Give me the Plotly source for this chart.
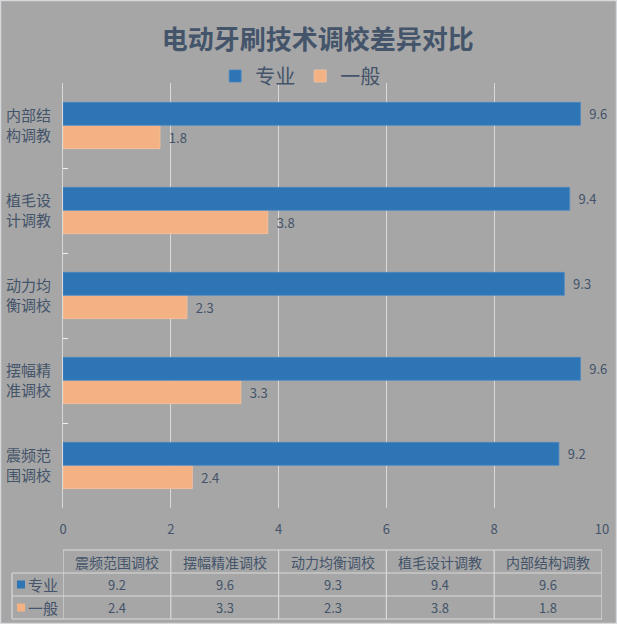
import plotly.graph_objects as go

categories = ["震频范围调校", "摆幅精准调校", "动力均衡调校", "植毛设计调教", "内部结构调教"]
tick_labels = ["震频范<br>围调校", "摆幅精<br>准调校", "动力均<br>衡调校", "植毛设<br>计调教", "内部结<br>构调教"]
pro_values = [9.2, 9.6, 9.3, 9.4, 9.6]
gen_values = [2.4, 3.3, 2.3, 3.8, 1.8]
series_names = ["专业", "一般"]
x_ticks = [0, 2, 4, 6, 8, 10]

BLUE = "#2e75b6"
ORANGE = "#f4b183"
TXT = "#44546a"
LINE = "#d9d9d9"
BG = "#a6a6a6"
FONT = "Noto Sans CJK SC"

W, H = 617, 624
L, R, T, B = 63, 602, 83, 508


def px_x(p):
    return (p - L) / (R - L)


def px_y(p):
    return (B - p) / (B - T)


fig = go.Figure()
fig.add_trace(go.Bar(
    y=categories, x=gen_values, name=series_names[1], orientation="h",
    marker=dict(color=ORANGE, line=dict(color="#f6c39e", width=0.8)),
    text=gen_values, textposition="outside", texttemplate="\u00a0\u00a0%{x}",
    textfont=dict(color=TXT, size=13, family=FONT),
    cliponaxis=False, constraintext="none", legendrank=2,
))
fig.add_trace(go.Bar(
    y=categories, x=pro_values, name=series_names[0], orientation="h",
    marker=dict(color=BLUE, line=dict(color="#4a88c4", width=0.8)),
    text=pro_values, textposition="outside", texttemplate="\u00a0\u00a0%{x}",
    textfont=dict(color=TXT, size=13, family=FONT),
    cliponaxis=False, constraintext="none", legendrank=1,
))

shapes = []
annotations = []

# data table
row_lines = [550, 573, 596, 619]
cols = len(categories)
shapes.append(dict(type="line", xref="x", yref="paper", x0=0, x1=x_ticks[-1],
                   y0=px_y(550), y1=px_y(550), line=dict(color=LINE, width=1.2)))
for yy in row_lines[1:]:
    shapes.append(dict(type="line", xref="paper", yref="paper", x0=px_x(12), x1=1,
                       y0=px_y(yy), y1=px_y(yy), line=dict(color=LINE, width=1.2)))
for i in range(cols + 1):
    xv = i * 2
    shapes.append(dict(type="line", xref="x", yref="paper", x0=xv, x1=xv,
                       y0=px_y(550), y1=px_y(619), line=dict(color=LINE, width=1.2)))
shapes.append(dict(type="line", xref="paper", yref="paper", x0=px_x(12), x1=px_x(12),
                   y0=px_y(573), y1=px_y(619), line=dict(color=LINE, width=1.2)))

for i, c in enumerate(categories):
    xc = i * 2 + 1
    annotations.append(dict(x=xc, y=px_y(561.5), xref="x", yref="paper", text=c,
                            xanchor="center", yanchor="middle", showarrow=False,
                            font=dict(size=14, color=TXT, family=FONT)))
    annotations.append(dict(x=xc, y=px_y(584.5), xref="x", yref="paper", text=str(pro_values[i]),
                            xanchor="center", yanchor="middle", showarrow=False,
                            font=dict(size=13, color=TXT, family=FONT)))
    annotations.append(dict(x=xc, y=px_y(607.5), xref="x", yref="paper", text=str(gen_values[i]),
                            xanchor="center", yanchor="middle", showarrow=False,
                            font=dict(size=13, color=TXT, family=FONT)))

for name, col, yc in [(series_names[0], BLUE, 584.5), (series_names[1], ORANGE, 607.5)]:
    shapes.append(dict(type="rect", xref="paper", yref="paper", x0=px_x(17), x1=px_x(25),
                       y0=px_y(yc + 4), y1=px_y(yc - 4), fillcolor=col, line=dict(width=0)))
    annotations.append(dict(x=px_x(26), y=px_y(yc), xref="paper", yref="paper", text=name,
                            xanchor="left", yanchor="middle", showarrow=False,
                            font=dict(size=15, color=TXT, family=FONT)))

# outer border
shapes.append(dict(type="rect", xref="paper", yref="paper", x0=px_x(0.5), x1=px_x(W - 0.5),
                   y0=px_y(H - 0.5), y1=px_y(0.5), line=dict(color="#d5d8dc", width=1.5)))

fig.update_layout(
    width=W, height=H, autosize=False,
    margin=dict(l=L, r=W - R, t=T, b=H - B, pad=0, autoexpand=False),
    paper_bgcolor=BG, plot_bgcolor=BG,
    barmode="group", bargap=0.45, bargroupgap=0.02,
    title=dict(text="<b>电动牙刷技术调校差异对比</b>", x=0.515, xref="container", xanchor="center",
               y=1 - 40 / H, yref="container", yanchor="middle", automargin=False,
               font=dict(size=26, color=TXT, family=FONT)),
    legend=dict(orientation="h", x=0.44, xanchor="center", y=px_y(76), yanchor="middle",
                font=dict(size=20, color=TXT, family=FONT), bgcolor="rgba(0,0,0,0)",
                itemwidth=30, traceorder="normal"),
    xaxis=dict(range=[0, 10], tickvals=x_ticks, showgrid=True, gridcolor=LINE, gridwidth=1.2,
               zeroline=False, showline=False, ticks="", automargin=False,
               tickfont=dict(size=13, color=TXT, family=FONT), ticklabelstandoff=12),
    yaxis=dict(categoryorder="array", categoryarray=categories, tickvals=categories,
               ticktext=tick_labels, showline=True, linecolor=LINE, linewidth=1.2,
               ticks="inside", tickson="boundaries", ticklen=5, tickcolor="#f0f0f0",
               automargin=False,
               tickfont=dict(size=15, color=TXT, family=FONT), ticklabelstandoff=8),
    shapes=shapes, annotations=annotations,
    showlegend=True,
)

fig.write_html("out.html", config={"displayModeBar": False},
               post_script="document.body.style.margin='0';document.body.style.overflow='hidden';")
